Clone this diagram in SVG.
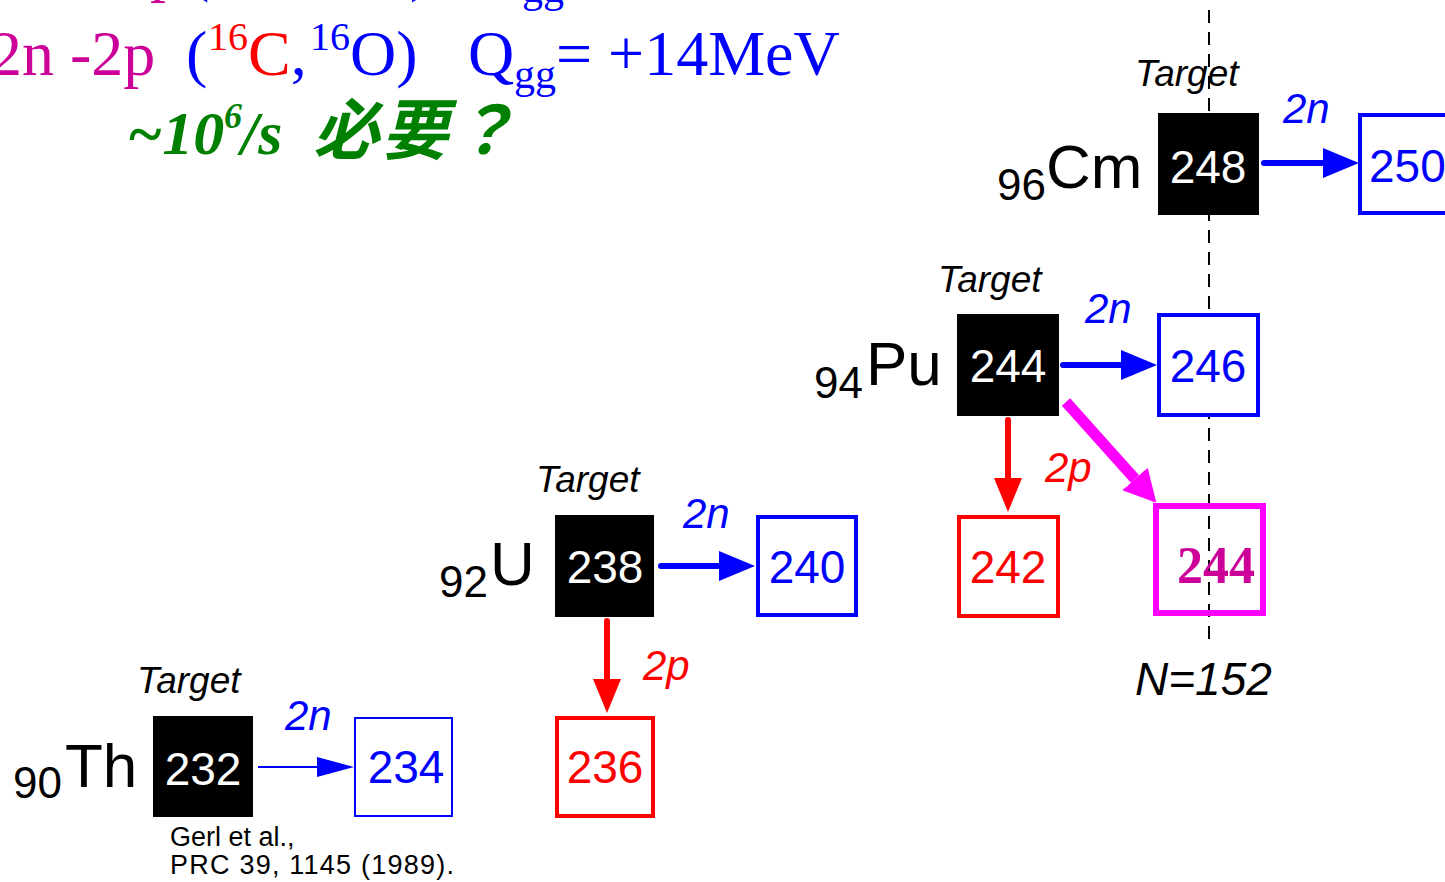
<svg xmlns="http://www.w3.org/2000/svg" width="1445" height="882" viewBox="0 0 1445 882">
<style>
  .sans { font-family: "Liberation Sans", Arial, sans-serif; }
  .serif { font-family: "Liberation Serif", "Times New Roman", serif; }
  .tgt { fill: #000; }
  .num { font-family: "Liberation Sans", Arial, sans-serif; font-size: 46px; text-anchor: middle; }
  .white { fill: #fff; }
  .blue { fill: #0000ff; }
  .red { fill: #ff0000; }
  .elem { font-family: "Liberation Sans", Arial, sans-serif; font-size: 62px; fill: #000; }
  .z { font-family: "Liberation Sans", Arial, sans-serif; font-size: 44px; fill: #000; }
  .target { font-family: "Liberation Sans", Arial, sans-serif; font-size: 37px; font-style: italic; fill: #000; }
  .lab { font-family: "Liberation Sans", Arial, sans-serif; font-size: 42px; font-style: italic; }
  .box-b { fill: #fff; stroke: #0000ff; stroke-width: 4; }
  .box-r { fill: #fff; stroke: #ff0000; stroke-width: 4; }
  .hdr { font-family: "Liberation Serif", "Times New Roman", serif; font-size: 64px; }
</style>
<defs>
  <marker id="hb" markerUnits="userSpaceOnUse" markerWidth="37" markerHeight="30" refX="0" refY="15" orient="auto">
    <path d="M0,0 L36,15 L0,30 z" fill="#0000ff"/>
  </marker>
  <marker id="hbt" markerUnits="userSpaceOnUse" markerWidth="38" markerHeight="20" refX="0" refY="10" orient="auto">
    <path d="M0,0 L37,10 L0,20 z" fill="#0000ff"/>
  </marker>
  <marker id="hr" markerUnits="userSpaceOnUse" markerWidth="35" markerHeight="28" refX="0" refY="14" orient="auto">
    <path d="M0,0 L34,14 L0,28 z" fill="#ff0000"/>
  </marker>
  <marker id="hm" markerUnits="userSpaceOnUse" markerWidth="33" markerHeight="34" refX="0" refY="17" orient="auto">
    <path d="M0,0 L32,17 L0,34 z" fill="#ff00ff"/>
  </marker>
</defs>

<!-- header text -->
<g id="header">
  <text class="hdr" y="-11"><tspan x="118" fill="#cc0099">2p</tspan><tspan x="188" fill="#0000ff">(</tspan><tspan x="410" fill="#0000ff">)</tspan><tspan x="470" fill="#0000ff">Q</tspan><tspan x="522" y="2" font-size="42" fill="#0000ff">gg</tspan></text>
  <text class="hdr" y="75"><tspan x="-10" fill="#cc0099">2n -2p</tspan><tspan x="186" fill="#0000ff">(</tspan><tspan x="208" y="50" font-size="40" fill="#ff0000">16</tspan><tspan x="248" y="75" fill="#ff0000">C</tspan><tspan fill="#0000ff">,</tspan><tspan x="310" y="50" font-size="40" fill="#0000ff">16</tspan><tspan x="350" y="75" fill="#0000ff">O)</tspan><tspan x="468" fill="#0000ff">Q</tspan><tspan x="514" y="88" font-size="42" fill="#0000ff">gg</tspan><tspan x="556" y="75" fill="#0000ff">= +14MeV</tspan></text>
  <text y="154" fill="#008000" font-weight="bold" font-style="italic" font-size="62" font-family="'Liberation Serif', 'Noto Sans CJK JP', serif"><tspan x="127">~10</tspan><tspan x="224" y="128" font-size="36">6</tspan><tspan x="241" y="154">/s</tspan><tspan x="313" font-size="66" letter-spacing="3" font-family="'Noto Sans CJK JP', sans-serif">必要？</tspan></text>
</g>

<!-- N=152 dashed line -->
<g id="n152">
  <line x1="1209" y1="10" x2="1209" y2="645" stroke="#000" stroke-width="2" stroke-dasharray="13 9"/>
  <text class="sans" x="1135" y="695" font-size="46" font-style="italic">N=152</text>
</g>

<!-- connectors -->
<g id="connectors" fill="none" stroke-linecap="round">
  <line x1="258" y1="767" x2="317" y2="767" stroke="#0000ff" stroke-width="2" stroke-linecap="butt" marker-end="url(#hbt)"/>
  <line x1="661" y1="566" x2="719" y2="566" stroke="#0000ff" stroke-width="6" marker-end="url(#hb)"/>
  <line x1="607" y1="621" x2="607" y2="679" stroke="#ff0000" stroke-width="6" marker-end="url(#hr)"/>
  <line x1="1063" y1="365" x2="1121" y2="365" stroke="#0000ff" stroke-width="6" marker-end="url(#hb)"/>
  <line x1="1008" y1="420" x2="1008" y2="478" stroke="#ff0000" stroke-width="6" marker-end="url(#hr)"/>
  <line x1="1066" y1="402" x2="1135" y2="479" stroke="#ff00ff" stroke-width="11" stroke-linecap="butt" marker-end="url(#hm)"/>
  <line x1="1264" y1="163" x2="1323" y2="163" stroke="#0000ff" stroke-width="6" marker-end="url(#hb)"/>
</g>

<!-- Th -->
<g id="th232">
  <text class="z" x="13" y="798">90</text>
  <text class="elem" x="65" y="787">Th</text>
  <text class="target" x="137" y="693">Target</text>
  <rect x="153" y="716" width="100" height="101" class="tgt"/>
  <text class="num white" x="203" y="785">232</text>
</g>
<g id="th234">
  <rect x="355" y="718" width="97" height="98" fill="#fff" stroke="#0000ff" stroke-width="2"/>
  <text class="num blue" x="406" y="783" font-size="42">234</text>
</g>
<g id="label-th-2n"><text class="lab blue" x="285" y="730">2n</text></g>
<g id="ref">
  <text class="sans" x="170" y="846" font-size="27">Gerl et al.,</text>
  <text class="sans" x="170" y="874" font-size="27" textLength="284" lengthAdjust="spacing">PRC 39, 1145 (1989).</text>
</g>

<!-- U -->
<g id="u238">
  <text class="z" x="439" y="597">92</text>
  <text class="elem" x="490" y="585">U</text>
  <text class="target" x="536" y="492">Target</text>
  <rect x="555" y="515" width="99" height="102" class="tgt"/>
  <text class="num white" x="605" y="583">238</text>
</g>
<g id="u240">
  <rect x="758" y="517" width="98" height="98" class="box-b"/>
  <text class="num blue" x="807" y="583">240</text>
</g>
<g id="u236">
  <rect x="557" y="718" width="96" height="98" class="box-r"/>
  <text class="num red" x="605" y="783">236</text>
</g>
<g id="label-u"><text class="lab blue" x="683" y="528">2n</text><text class="lab red" x="643" y="680">2p</text></g>

<!-- Pu -->
<g id="pu244">
  <text class="z" x="814" y="398">94</text>
  <text class="elem" x="866" y="385">Pu</text>
  <text class="target" x="938" y="292">Target</text>
  <rect x="957" y="314" width="102" height="102" class="tgt"/>
  <text class="num white" x="1008" y="382">244</text>
</g>
<g id="pu246">
  <rect x="1159" y="315" width="99" height="100" class="box-b"/>
  <text class="num blue" x="1208" y="382">246</text>
</g>
<g id="pu242">
  <rect x="959" y="517" width="99" height="99" class="box-r"/>
  <text class="num red" x="1008" y="583">242</text>
</g>
<g id="cm244">
  <rect x="1156" y="506" width="107" height="107" fill="none" stroke="#ff00ff" stroke-width="6"/>
  <text class="serif" x="1216" y="583" font-size="52" font-weight="bold" fill="#cc0099" text-anchor="middle">244</text>
</g>
<g id="label-pu"><text class="lab blue" x="1085" y="323">2n</text><text class="lab red" x="1045" y="482">2p</text></g>

<!-- Cm -->
<g id="cm248">
  <text class="z" x="997" y="200">96</text>
  <text class="elem" x="1046" y="188">Cm</text>
  <text class="target" x="1135" y="86">Target</text>
  <rect x="1158" y="113" width="101" height="102" class="tgt"/>
  <text class="num white" x="1208" y="183">248</text>
</g>
<g id="cm250">
  <rect x="1360" y="115" width="100" height="98" class="box-b"/>
  <text class="sans blue" x="1369" y="182" font-size="46">250</text>
</g>
<g id="label-cm"><text class="lab blue" x="1283" y="123">2n</text></g>
</svg>
